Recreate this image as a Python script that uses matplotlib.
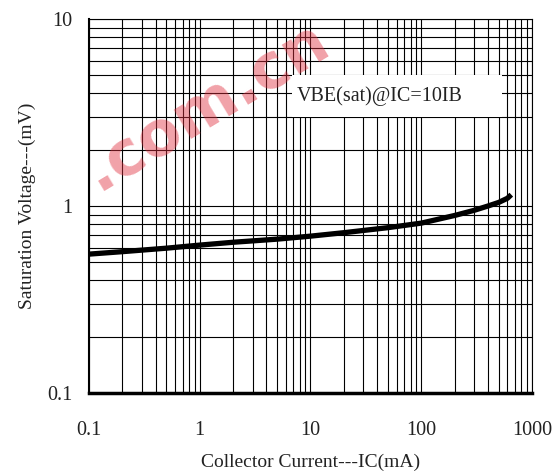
import matplotlib.pyplot as plt
from matplotlib.patches import Rectangle
import numpy as np

# curve
ic = [0.1, 0.2, 0.5, 1, 2, 5, 10, 20, 50, 100, 200, 300, 400, 500, 600, 650]
vbe = [0.553, 0.57, 0.595, 0.618, 0.64, 0.665, 0.69, 0.72, 0.766, 0.81,
       0.89, 0.948, 1.0, 1.045, 1.1, 1.15]

x_ticks = [0.1, 1, 10, 100, 1000]
x_labels = ["0.1", "1", "10", "100", "1000"]
y_ticks = [0.1, 1, 10]
y_labels = ["0.1", "1", "10"]

plt.rcParams['font.family'] = ['Liberation Serif', 'DejaVu Serif']

fig = plt.figure(figsize=(5.58, 4.73), dpi=100)
ax = fig.add_axes([0.1595, 0.1691, 0.7939, 0.7907])

ax.set_xscale('log')
ax.set_yscale('log')
ax.set_xlim(0.1, 1000)
ax.set_ylim(0.1, 10)
ax.set_axisbelow(True)

ax.grid(True, which='both', color='black', linewidth=0.8)
ax.set_xticks(x_ticks)
ax.set_xticklabels(x_labels)
ax.set_yticks(y_ticks)
ax.set_yticklabels(y_labels)
ax.tick_params(which='both', length=0)
ax.tick_params(axis='x', pad=20, labelsize=14.5, labelcolor='#222222')
ax.tick_params(axis='y', pad=12, labelsize=14.5, labelcolor='#222222')

for side in ['top', 'right']:
    ax.spines[side].set_linewidth(0.8)
ax.spines['left'].set_linewidth(1.5)
ax.spines['bottom'].set_linewidth(2.5)

# white box behind the note
ax.add_patch(Rectangle((0.458, 0.738), 0.474, 0.112, transform=ax.transAxes,
                       facecolor='white', edgecolor='none', zorder=2))
ax.text(0.468, 0.794, "VBE(sat)@IC=10IB", transform=ax.transAxes,
        fontsize=14.5, va='center', ha='left', color='#222222', zorder=3)

ax.plot(ic, vbe, color='black', linewidth=3.8, solid_capstyle='butt', zorder=4)

ax.set_xlabel("Collector Current---IC(mA)", fontsize=14, labelpad=10, color='#222222')
ax.set_ylabel("Saturation Voltage---(mV)", fontsize=14, labelpad=8, color='#222222')

# watermark
fig.text(0.37, 0.775, ".com.cn", fontsize=45, fontweight='bold', family='DejaVu Sans',
         color='#e0303f', alpha=0.45, rotation=31, ha='center', va='center', zorder=10)

fig.savefig("out.png", dpi=100)
